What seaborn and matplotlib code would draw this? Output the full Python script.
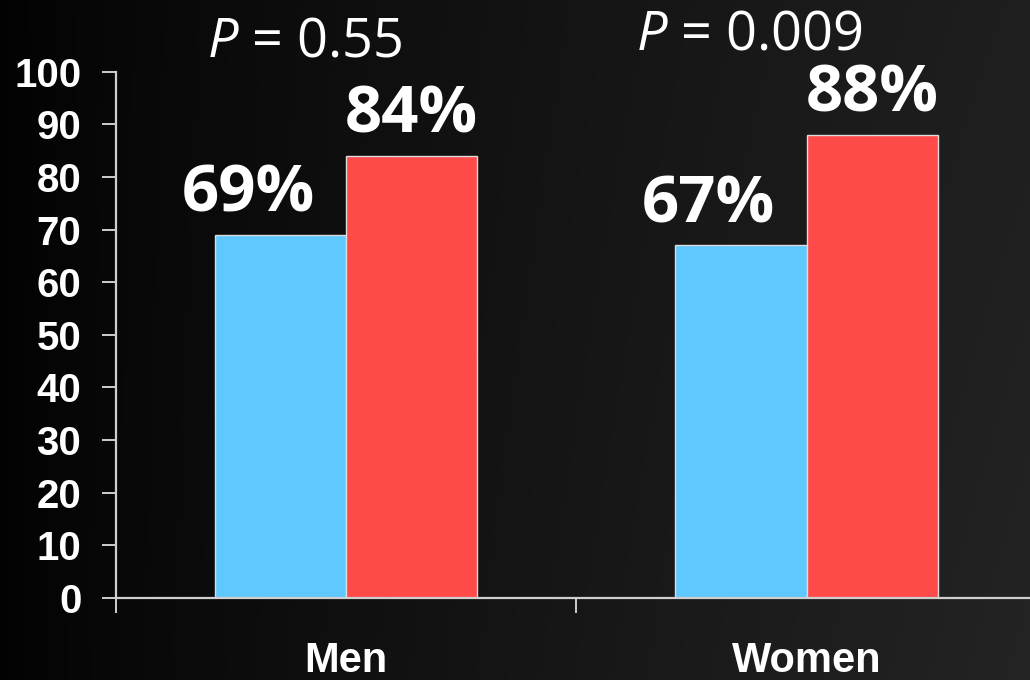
import numpy as np
import pandas as pd
import matplotlib
matplotlib.use("Agg")
import matplotlib.pyplot as plt
import seaborn as sns

# Data
groups = ["Men", "Women"]
arms = ["Control", "Treatment"]
control_pct = [69, 67]
treatment_pct = [84, 88]
p_values = ["0.55", "0.009"]
y_ticks = [0, 10, 20, 30, 40, 50, 60, 70, 80, 90, 100]

bar_colors = ["#5ec8ff", "#ff4a4a"]

df = pd.DataFrame({
    "group": groups * 2,
    "arm": [arms[0]] * 2 + [arms[1]] * 2,
    "pct": control_pct + treatment_pct,
})

sns.set_theme(style="dark")
plt.rcParams["mathtext.fontset"] = "custom"
plt.rcParams["mathtext.it"] = "Open Sans:italic"
plt.rcParams["mathtext.rm"] = "Open Sans"

fig = plt.figure(figsize=(10.3, 6.8), dpi=100)

# dark gradient backdrop
bg = fig.add_axes([0, 0, 1, 1], zorder=-10)
gx = np.linspace(0, 1, 256)
gy = np.linspace(0, 1, 256)
X, Y = np.meshgrid(gx, gy)
shade = 0.01 + 0.11 * X ** 0.8 + 0.02 * X * Y
bg.imshow(np.dstack([shade, shade, shade]), aspect="auto", origin="upper",
          extent=[0, 1, 0, 1])
bg.set_axis_off()

ax = fig.add_axes([0.1126, 0.1206, 0.894, 0.774])
ax.set_facecolor("none")

bar_width = 0.57
sns.barplot(data=df, x="group", y="pct", hue="arm", hue_order=arms,
            order=groups, palette=bar_colors, width=bar_width,
            edgecolor="#dcdcdc", linewidth=1.0, saturation=1.0,
            legend=False, ax=ax, zorder=3)

ax.set_xlim(-0.5, 1.5)
ax.set_ylim(0, 100)
ax.set_yticks(y_ticks)
ax.set_xlabel("")
ax.set_ylabel("")
ax.grid(False)

for side in ["top", "right"]:
    ax.spines[side].set_visible(False)
for side in ["left", "bottom"]:
    ax.spines[side].set_visible(True)
    ax.spines[side].set_color("#cfcfcf")
    ax.spines[side].set_linewidth(1.6)
ax.spines["bottom"].set_zorder(4)

tick_font = dict(family="Liberation Sans", weight="bold", size=29)
ax.set_yticklabels([str(t) for t in y_ticks], fontdict=tick_font, color="white")
ax.tick_params(axis="y", which="major", left=True, length=10, width=1.4,
               color="#cfcfcf", pad=15)
ax.set_xticks([0, 1])
ax.set_xticklabels(groups, fontdict=dict(family="Liberation Sans",
                                         weight="bold", size=30),
                   color="white")
ax.tick_params(axis="x", which="major", bottom=False, length=0, pad=31)
ax.set_xticks([-0.5, 0.5, 1.5], minor=True)
ax.tick_params(axis="x", which="minor", bottom=True, length=11, width=1.4,
               color="#cfcfcf")

# value labels above the bars
half = bar_width / 2
for i, (c, t) in enumerate(zip(control_pct, treatment_pct)):
    ax.text(i - half / 2 - 0.07, c + 4.4, f"{c}%", ha="center", va="baseline",
            family="Open Sans", weight="bold", size=47, color="white",
            zorder=5)
    ax.text(i + half / 2, t + 4.4, f"{t}%", ha="center", va="baseline",
            family="Open Sans", weight="bold", size=47, color="white",
            zorder=5)

# p-values for each comparison
p_pos = [(-0.09, 102.9), (-0.125, 104.2)]
for i, (p, (dx, yy)) in enumerate(zip(p_values, p_pos)):
    ax.text(i + dx, yy, rf"$P$ = {p}", ha="center", va="baseline",
            family="Open Sans", size=39, color="white",
            clip_on=False, zorder=5)

fig.savefig("out.png", dpi=100)
